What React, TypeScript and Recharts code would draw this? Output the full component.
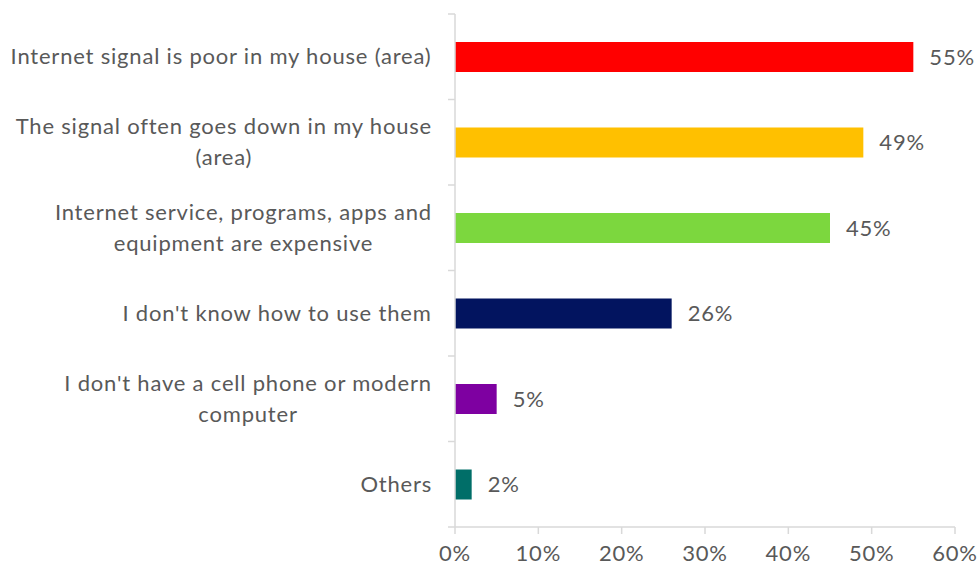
import { Bar, BarChart, Cell, LabelList, XAxis, YAxis } from "recharts"

const categories = [
  "Internet signal is poor in my house (area)",
  "The signal often goes down in my house\n(area)",
  "Internet service, programs, apps and\nequipment are expensive",
  "I don't know how to use them",
  "I don't have a cell phone or modern\ncomputer",
  "Others",
]
const values = [55, 49, 45, 26, 5, 2]
const barColors = ["#FF0000", "#FFC000", "#7CD73E", "#02145F", "#7E00A1", "#006E68"]
const xTicks = [0, 10, 20, 30, 40, 50, 60]

const data = categories.map((name, i) => ({ name, value: values[i] }))

const W = 979
const H = 572
const TOP = 14
const BOTTOM = 45
const FONT = "Lato, 'Open Sans', sans-serif"
const FS = 22
const LS = 0.8
const GRAY = "#595959"
const AXIS = "#D9D9D9"
const BAND = (H - TOP - BOTTOM) / categories.length

let ctx: CanvasRenderingContext2D | null = null
function measure(s: string) {
  if (!ctx) ctx = document.createElement("canvas").getContext("2d")
  if (!ctx) return s.length * 11
  ctx.font = `${FS}px ${FONT}`
  return ctx.measureText(s).width + s.length * LS
}

function CategoryTick(props: any) {
  const { x, y, payload, index } = props
  const lines: string[] = String(payload.value).split("\n")
  const widest = Math.max(...lines.map(measure))
  const right = x - 23
  const cx = right - widest / 2
  const lh = 31
  const start = y - ((lines.length - 1) * lh) / 2
  return (
    <g>
      {index === 0 && <line x1={x - 7} x2={x} y1={y - BAND / 2} y2={y - BAND / 2} stroke={AXIS} strokeWidth={1.5} />}
      <line x1={x - 7} x2={x} y1={y + BAND / 2} y2={y + BAND / 2} stroke={AXIS} strokeWidth={1.5} />
      <text textAnchor="middle" fill={GRAY} fontSize={FS} fontFamily={FONT} letterSpacing={LS}>
        {lines.map((l, i) => (
          <tspan key={i} x={cx} y={start + i * lh} dy="0.35em">
            {l}
          </tspan>
        ))}
      </text>
    </g>
  )
}

export default function App() {
  return (
    <div style={{ position: "absolute", left: 0, top: 0, width: W, height: H, background: "#fff" }}>
      <BarChart
        width={W}
        height={H}
        data={data}
        layout="vertical"
        margin={{ top: TOP, right: 24, bottom: 0, left: 10 }}
      >
        <XAxis
          type="number"
          domain={[0, 60]}
          ticks={xTicks}
          tickFormatter={(v) => `${v}%`}
          height={BOTTOM}
          axisLine={{ stroke: AXIS, strokeWidth: 1.5 }}
          tickLine={{ stroke: AXIS, strokeWidth: 1.5 }}
          tickSize={7}
          tickMargin={11}
          tick={{ fill: GRAY, fontSize: FS, fontFamily: FONT, letterSpacing: LS }}
        />
        <YAxis
          type="category"
          dataKey="name"
          width={445}
          axisLine={{ stroke: AXIS, strokeWidth: 1.5 }}
          tickLine={false}
          tickSize={0}
          tickMargin={0}
          interval={0}
          tick={<CategoryTick />}
        />
        <Bar dataKey="value" barSize={30} isAnimationActive={false}>
          {data.map((_, i) => (
            <Cell key={i} fill={barColors[i]} />
          ))}
          <LabelList
            dataKey="value"
            position="right"
            offset={16}
            formatter={(v: any) => `${v}%`}
            fill={GRAY}
            fontSize={FS}
            fontFamily={FONT}
            letterSpacing={LS}
          />
        </Bar>
      </BarChart>
    </div>
  )
}
